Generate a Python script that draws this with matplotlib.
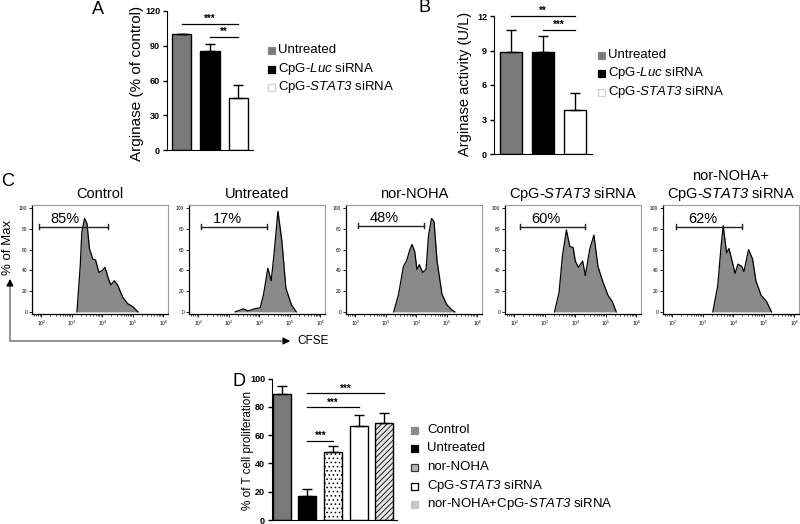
import matplotlib
matplotlib.use("Agg")
import matplotlib.pyplot as plt
import matplotlib.ticker as mticker
import numpy as np

plt.rcParams['font.family'] = ['Liberation Sans', 'DejaVu Sans']
# math text is only used for the italic gene names
plt.rcParams['mathtext.fontset'] = 'custom'
plt.rcParams['mathtext.rm'] = 'Liberation Sans:italic'
plt.rcParams['mathtext.it'] = 'Liberation Sans:italic'
plt.rcParams['hatch.linewidth'] = 0.6

W, H = 800, 524

# ---- panel A / B data
ab_labels = ['Untreated', 'CpG-$Luc$ siRNA', 'CpG-$STAT3$ siRNA']
a_vals = [100, 85.7, 45.2]
a_err = [0, 5.5, 10.7]
b_vals = [8.85, 8.85, 3.83]
b_err = [1.9, 1.4, 1.5]
ab_colors = ['#797979', '#000000', '#ffffff']

# ---- panel C data (log10 CFSE, % of max)
c_titles = ['Control', 'Untreated', 'nor-NOHA', 'CpG-$STAT3$ siRNA',
            'nor-NOHA+\nCpG-$STAT3$ siRNA']
c_pct = ['85%', '17%', '48%', '60%', '62%']
c_gate = [(1.94, 4.2, 82), (2.1, 4.24, 82), (2.1, 4.26, 83), (2.19, 4.31, 82), (2.14, 4.27, 82)]
c_x = [
    [3.17, 3.28, 3.33, 3.42, 3.5, 3.58, 3.69, 3.78, 3.89, 4.0, 4.09, 4.2, 4.28, 4.39, 4.5, 4.67, 4.83, 5.0, 5.17],
    [3.21, 3.3, 3.4, 3.47, 3.55, 3.63, 3.75, 3.84, 4.03, 4.14, 4.28, 4.39, 4.49, 4.61, 4.74, 4.87, 5.05, 5.21],
    [3.26, 3.42, 3.58, 3.68, 3.79, 3.86, 3.95, 4.02, 4.1, 4.21, 4.32, 4.4, 4.5, 4.58, 4.68, 4.84, 5.0, 5.16, 5.26],
    [3.32, 3.47, 3.58, 3.71, 3.82, 3.93, 4.0, 4.1, 4.24, 4.33, 4.47, 4.61, 4.74, 4.89, 5.07, 5.21, 5.34],
    [3.33, 3.49, 3.6, 3.67, 3.78, 3.86, 3.97, 4.06, 4.15, 4.27, 4.35, 4.5, 4.63, 4.74, 4.91, 5.09, 5.25],
]
c_y = [
    [0, 45, 77, 90, 85, 61, 51, 50, 38, 40, 43, 32, 26, 30, 26, 14, 8, 5, 0],
    [0, 1, 2, 3, 2, 1, 2, 3, 4, 17, 42, 30, 58, 97, 68, 23, 7, 0],
    [0, 17, 44, 49, 60, 65, 58, 41, 45.5, 38, 41, 74, 90, 87, 49, 17, 7, 2, 0],
    [0, 19, 54, 79, 63, 62, 49, 43, 49, 35, 60, 74, 44, 30, 16, 10, 0],
    [0, 25, 63, 83, 57, 61, 48, 37, 46, 44, 39, 60, 51, 30, 16, 10, 0],
]

# ---- panel D data
d_labels = ['Control', 'Untreated', 'nor-NOHA', 'CpG-$STAT3$ siRNA',
            'nor-NOHA+CpG-$STAT3$ siRNA']
d_vals = [89.4, 16.9, 48, 66.5, 68.5]
d_err = [5.2, 5.0, 4.4, 8.1, 7.5]

fig = plt.figure(figsize=(8, 5.24), dpi=100)


def px_axes(x0, y0, x1, y1):
    return fig.add_axes([x0 / W, 1 - y1 / H, (x1 - x0) / W, (y1 - y0) / H])


def bar_axes(ax, ymax, step):
    ax.spines['top'].set_visible(False)
    ax.spines['right'].set_visible(False)
    ax.set_ylim(0, ymax)
    ax.set_yticks(np.arange(0, ymax + 0.01, step))
    ax.set_xticks([])
    ax.tick_params(axis='y', length=3, width=1, pad=2)
    for t in ax.get_yticklabels():
        t.set_fontsize(6.5)
        t.set_fontweight('bold')
    ax.patch.set_alpha(0)


def sig(ax, x0, x1, y, txt):
    ax.plot([x0, x1], [y, y], color='black', lw=0.9, clip_on=False)
    ax.text((x0 + x1) / 2, y, txt, ha='center', va='bottom', fontsize=7, fontweight='bold')


# ---------------- A
axA = px_axes(167, 11, 253, 150)
xa = np.arange(3)
axA.bar(xa, a_vals, width=0.67, color=ab_colors, edgecolor='black', linewidth=1.0)
axA.errorbar(xa, a_vals, yerr=[np.zeros(3), a_err], fmt='none', ecolor='black', elinewidth=1.0, capsize=3.5, capthick=1.0)
axA.set_xlim(-0.51, 2.51)
bar_axes(axA, 120, 30)
sig(axA, 0, 2, 109, '***')
sig(axA, 1, 2, 97.5, '**')

# ---------------- B
axB = px_axes(494, 16, 592, 154)
axB.bar(xa, b_vals, width=0.66, color=ab_colors, edgecolor='black', linewidth=1.0)
axB.errorbar(xa, b_vals, yerr=[np.zeros(3), b_err], fmt='none', ecolor='black', elinewidth=1.0, capsize=3.5, capthick=1.0)
axB.set_xlim(-0.53, 2.53)
bar_axes(axB, 12, 3)
sig(axB, 0, 2, 12.0, '**')
sig(axB, 1, 2, 10.8, '***')

# ---------------- C
c_left = [32, 189, 346, 505, 663]
for i in range(5):
    ax = px_axes(c_left[i], 205, c_left[i] + 136, 314)
    ax.fill_between(10 ** np.array(c_x[i]), c_y[i], 0, color='#8a8a8a', lw=0)
    ax.plot(10 ** np.array(c_x[i]), c_y[i], color='black', lw=0.9)
    ax.set_xscale('log')
    ax.set_xlim(10 ** 1.7, 10 ** 6.15)
    ax.set_ylim(-2, 103)
    ax.set_yticks([0, 20, 40, 60, 80, 100])
    ax.set_xticks([1e2, 1e3, 1e4, 1e5, 1e6])
    ax.xaxis.set_minor_locator(mticker.LogLocator(base=10, subs=np.arange(2, 10)))
    ax.xaxis.set_minor_formatter(mticker.NullFormatter())
    ax.tick_params(labelsize=3.5, length=2, width=0.6, pad=1.5)
    ax.tick_params(which='minor', length=1.2, width=0.5)
    for s in ['top', 'right']:
        ax.spines[s].set_color('#9a9a9a')
    for s in ['left', 'bottom']:
        ax.spines[s].set_linewidth(0.9)
    g0, g1, gy = c_gate[i]
    ax.plot([10 ** g0, 10 ** g1], [gy, gy], color='#222222', lw=1.0)
    ax.plot([10 ** g0, 10 ** g0], [gy - 2.5, gy + 2.5], color='#222222', lw=1.0)
    ax.plot([10 ** g1, 10 ** g1], [gy - 2.5, gy + 2.5], color='#222222', lw=1.0)
    ax.text(10 ** (g0 + 0.85), gy + 1, c_pct[i], ha='center', va='bottom', fontsize=10.5)
    ax.set_title(c_titles[i], fontsize=10.5, pad=5, linespacing=1.15)

# ---------------- D
axD = px_axes(272, 378.7, 397, 520)
xd = np.arange(5)
d_face = ['#797979', '#000000', '#ffffff', '#ffffff', '#e6e6e6']
d_hatch = [None, None, '....', None, '//////']
for k in range(5):
    axD.bar(xd[k], d_vals[k], width=0.7, color=d_face[k], edgecolor='black', linewidth=1.0, hatch=d_hatch[k])
axD.errorbar(xd, d_vals, yerr=[np.zeros(5), d_err], fmt='none', ecolor='black', elinewidth=1.0, capsize=3.5, capthick=1.0)
axD.set_xlim(-0.38, 4.49)
bar_axes(axD, 100, 20)
sig(axD, 1, 4, 89.6, '***')
sig(axD, 1, 3, 79.7, '***')
sig(axD, 1, 2, 55.7, '***')

# ---------------- overlay: letters, axis titles, legends, CFSE arrows
ov = fig.add_axes([0, 0, 1, 1])
ov.set_xlim(0, W)
ov.set_ylim(H, 0)
ov.axis('off')

for letter, x, y in [('A', 92, 10), ('B', 418, 8), ('C', 1, 182), ('D', 232, 382)]:
    ov.text(x, y, letter, fontsize=13, ha='left', va='center')

ov.text(137, 83, 'Arginase (% of control)', fontsize=11, rotation=90, ha='center', va='center')
ov.text(465, 84, 'Arginase activity (U/L)', fontsize=10.5, rotation=90, ha='center', va='center')
ov.text(248, 451, '% of T cell proliferation', fontsize=8.5, rotation=90, ha='center', va='center')


def legend(x, ys, labels, faces, edges, size, gap):
    for y, lab, fc, ec in zip(ys, labels, faces, edges):
        ov.add_patch(plt.Rectangle((x - size / 2, y - size / 2), size, size, facecolor=fc, edgecolor=ec, lw=0.9))
        ov.text(x + gap, y, lab, fontsize=9.5, va='center', ha='left')


legend(271, [50, 69, 87], ab_labels, ab_colors, ['#888888', '#000000', '#d0d0d0'], 7, 7)
legend(601, [55, 73, 92], ab_labels, ab_colors, ['#888888', '#000000', '#d0d0d0'], 7, 7)
legend(414, [430, 448, 467, 486, 504], d_labels,
       ['#8a8a8a', '#000000', '#b5b5b5', '#ffffff', '#c8c8c8'],
       ['#8a8a8a', '#000000', '#333333', '#000000', '#c8c8c8'], 7, 13)

ov.plot([10, 10, 285], [283, 341, 341], color='#8a8a8a', lw=1.3)
ov.annotate('', xy=(10, 276), xytext=(10, 286),
            arrowprops=dict(arrowstyle='-|>', color='black', lw=1.0, mutation_scale=10))
ov.annotate('', xy=(293, 341), xytext=(283, 341),
            arrowprops=dict(arrowstyle='-|>', color='black', lw=1.0, mutation_scale=10))
ov.text(297, 341, 'CFSE', fontsize=8.5, va='center', ha='left')
ov.text(8, 247, '% of Max', fontsize=9.5, va='center', ha='center', rotation=90)

fig.savefig('out.png', dpi=100)
